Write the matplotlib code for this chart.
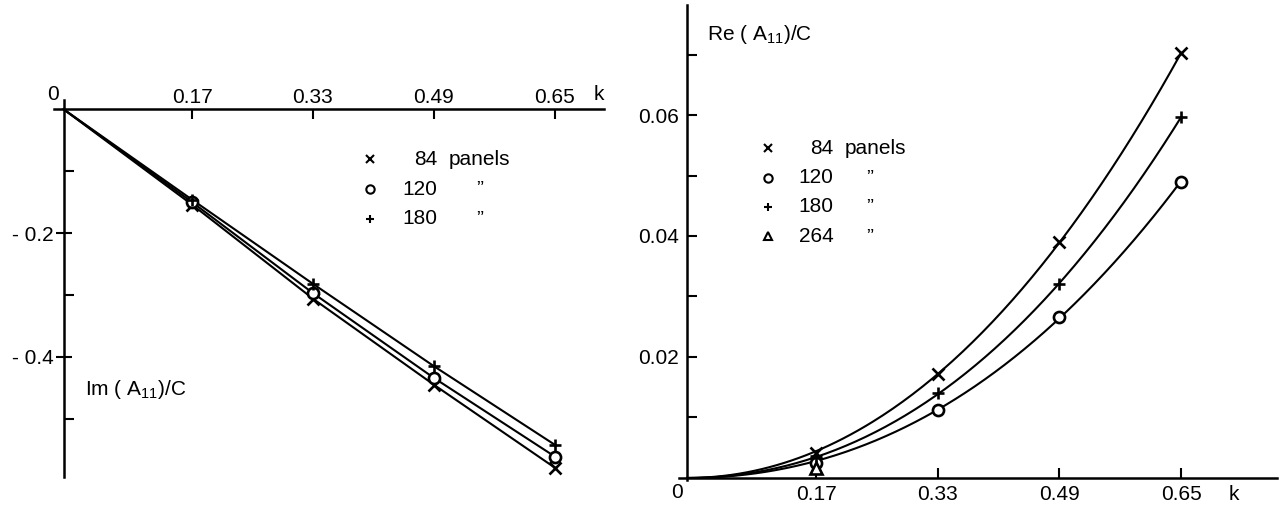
import numpy as np
import matplotlib.pyplot as plt

plt.rcParams['font.family'] = ['Liberation Sans', 'DejaVu Sans']
plt.rcParams['mathtext.fontset'] = 'custom'
plt.rcParams['mathtext.rm'] = 'Liberation Sans'

k = [0.17, 0.33, 0.49, 0.65]
k_labels = ['0.17', '0.33', '0.49', '0.65']

# imaginary part, one list per panel count
im_84 = [-0.154, -0.306, -0.445, -0.579]
im_120 = [-0.150, -0.297, -0.434, -0.561]
im_180 = [-0.146, -0.282, -0.415, -0.542]

# real part
re_84 = [0.0042, 0.0172, 0.0390, 0.0702]
re_120 = [0.0025, 0.0112, 0.0266, 0.0490]
re_180 = [0.0037, 0.0140, 0.0320, 0.0597]
re_264 = [0.0016]

ditto = '\u201d'

fig = plt.figure(figsize=(12.79, 5.12), dpi=100)
W, H = 1279.0, 512.0

def axes_px(x0, x1, y0, y1):
    # pixel box -> figure fraction
    return fig.add_axes([x0 / W, 1 - y1 / H, (x1 - x0) / W, (y1 - y0) / H])

mk = dict(color='black', linestyle='none', markersize=8, markeredgewidth=1.9,
          markerfacecolor='white', zorder=3)
fs = 15

# ---- left: Im(A11)/C ----
ax1 = axes_px(54.5, 604, 100, 477)
ax1.set_xlim(-0.012, 0.715)
ax1.set_ylim(-0.594, 0.015)
for s in ['bottom', 'right']:
    ax1.spines[s].set_visible(False)
ax1.spines['top'].set_position(('data', 0))
ax1.spines['left'].set_position(('data', 0))
for s in ['top', 'left']:
    ax1.spines[s].set_linewidth(1.8)
ax1.xaxis.tick_top()
ax1.set_xticks(k, k_labels)
ax1.tick_params(axis='x', direction='in', length=7, width=1.5, labelsize=fs, pad=2)
ax1.set_yticks([-0.2, -0.4], ['- 0.2', '- 0.4'])
ax1.set_yticks([-0.1, -0.3, -0.5], minor=True)
ax1.tick_params(axis='y', which='major', direction='inout', length=12, width=1.5,
                labelsize=fs, pad=1)
ax1.tick_params(axis='y', which='minor', direction='in', length=7, width=1.5)
ax1.text(-0.006, 0.008, '0', fontsize=fs, ha='right', va='bottom')
ax1.text(0.708, 0.008, 'k', fontsize=fs, ha='center', va='bottom')

for vals, m in [(im_84, 'x'), (im_120, 'o'), (im_180, '+')]:
    ax1.plot([0] + k, [0] + vals, color='black', lw=1.5)
    ax1.plot(k, vals, marker=m, **mk)

ax1.text(0.028, -0.453, r'Im ( A$\mathregular{_{11}}$)/C', fontsize=fs, ha='left', va='center')

leg_rows1 = [('x', '84', 'panels'), ('o', '120', ditto), ('+', '180', ditto)]
for i, (m, n, t) in enumerate(leg_rows1):
    yy = -0.081 - 0.048 * i
    ax1.plot([0.405], [yy], marker=m, color='black', linestyle='none',
             markersize=6, markeredgewidth=1.5, markerfacecolor='white')
    ax1.text(0.494, yy, n, fontsize=fs, ha='right', va='center')
    if i == 0:
        ax1.text(0.509, yy, t, fontsize=fs, ha='left', va='center')
    else:
        ax1.text(0.551, yy, t, fontsize=fs, ha='center', va='center')

# ---- right: Re(A11)/C ----
ax2 = axes_px(679.4, 1276.8, 4.9, 479.8)
ax2.set_xlim(-0.01, 0.776)
ax2.set_ylim(-0.0003, 0.0782)
for s in ['top', 'right']:
    ax2.spines[s].set_visible(False)
ax2.spines['bottom'].set_position(('data', 0))
ax2.spines['left'].set_position(('data', 0))
for s in ['bottom', 'left']:
    ax2.spines[s].set_linewidth(1.8)
ax2.set_xticks(k, k_labels)
ax2.tick_params(axis='x', direction='in', length=7, width=1.5, labelsize=fs, pad=5)
ax2.set_yticks([0.02, 0.04, 0.06], ['0.02', '0.04', '0.06'])
ax2.set_yticks([0.01, 0.03, 0.05, 0.07], minor=True)
ax2.tick_params(axis='y', which='both', direction='in', length=7, width=1.5,
                labelsize=fs, pad=6)
ax2.text(-0.005, -0.0008, '0', fontsize=fs, ha='right', va='top')
ax2.text(0.72, -0.0012, 'k', fontsize=fs, ha='center', va='top')

kk = np.linspace(0, 0.65, 200)
for vals, m in [(re_84, 'x'), (re_120, 'o'), (re_180, '+')]:
    kv = np.array(k)
    A = np.vstack([kv ** 2, kv ** 3]).T
    coef = np.linalg.lstsq(A, np.array(vals), rcond=None)[0]
    ax2.plot(kk, coef[0] * kk ** 2 + coef[1] * kk ** 3, color='black', lw=1.5)
    ax2.plot(k, vals, marker=m, **mk)
ax2.plot(k[:1], re_264, marker='^', **mk)

ax2.text(0.026, 0.0733, r'Re ( A$\mathregular{_{11}}$)/C', fontsize=fs, ha='left', va='center')

leg_rows2 = [('x', '84', 'panels'), ('o', '120', ditto), ('+', '180', ditto), ('^', '264', ditto)]
for i, (m, n, t) in enumerate(leg_rows2):
    yy = 0.0545 - 0.00485 * i
    ax2.plot([0.1066], [yy], marker=m, color='black', linestyle='none',
             markersize=6, markeredgewidth=1.5, markerfacecolor='white')
    ax2.text(0.193, yy, n, fontsize=fs, ha='right', va='center')
    if i == 0:
        ax2.text(0.208, yy, t, fontsize=fs, ha='left', va='center')
    else:
        ax2.text(0.241, yy, t, fontsize=fs, ha='center', va='center')

fig.savefig('out.png', dpi=100)
